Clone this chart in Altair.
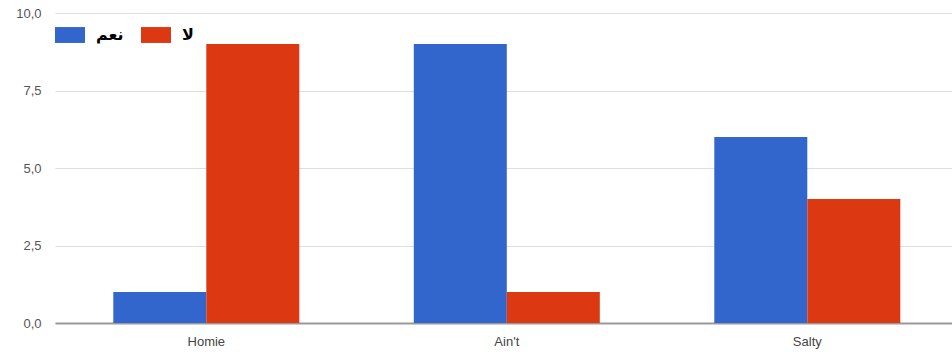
import altair as alt
import pandas as pd

categories = ["Homie", "Ain't", "Salty"]
series = ["نعم", "لا"]
yes_values = [1, 9, 6]
no_values = [9, 1, 4]
colors = ["#3366cc", "#dc3912"]

rows = []
for c, y, n in zip(categories, yes_values, no_values):
    rows.append({"word": c, "answer": series[0], "value": y})
    rows.append({"word": c, "answer": series[1], "value": n})
df = pd.DataFrame(rows)

chart = alt.Chart(df).mark_bar().encode(
    x=alt.X("word:N", sort=categories, title=None,
            scale=alt.Scale(paddingInner=0.381, paddingOuter=0.183, align=0.53),
            axis=alt.Axis(labelAngle=0, ticks=False, labelPadding=12, labelFont="Liberation Sans",
                          labelFontSize=13, labelColor="#444", domainColor="#999", domainWidth=2)),
    xOffset=alt.XOffset("answer:N", sort=series),
    y=alt.Y("value:Q", title=None,
            scale=alt.Scale(domain=[0, 10]),
            axis=alt.Axis(values=[0, 2.5, 5, 7.5, 10], ticks=False, domain=False,
                          labelExpr="replace(format(datum.value, '.1f'), '.', ',')",
                          labelPadding=14, labelFont="Liberation Sans", labelFontSize=13,
                          labelColor="#555", gridColor="#dddddd")),
    color=alt.Color("answer:N", sort=series,
                    scale=alt.Scale(domain=series, range=colors),
                    legend=alt.Legend(title=None, orient="none", legendX=0, legendY=7,
                                      direction="horizontal",
                                      symbolType="M-1,-0.53H1V0.53H-1Z", symbolSize=900,
                                      symbolStrokeWidth=0, symbolOpacity=1,
                                      labelFont="DejaVu Sans", labelFontWeight="bold",
                                      labelFontSize=16, labelColor="#000",
                                      labelOffset=11, columnPadding=17)),
).properties(
    width=897, height=310,
    autosize=alt.AutoSizeParams(type="none"),
    padding={"left": 55, "top": 13, "right": 0, "bottom": 40},
).configure_view(stroke=None)

chart.save("out.html", embed_options={"renderer": "svg", "actions": False})
